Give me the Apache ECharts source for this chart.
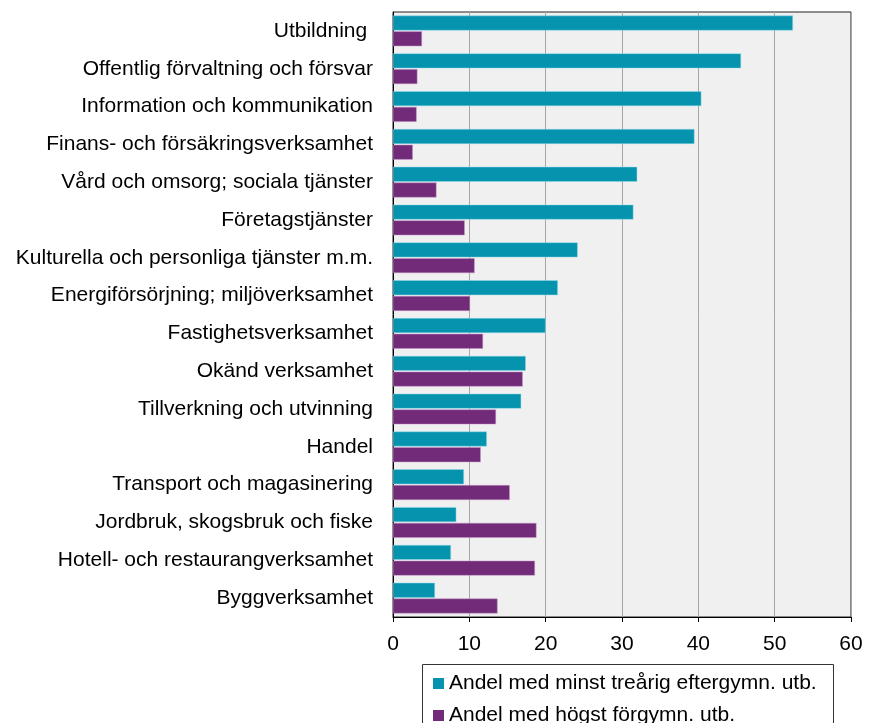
<!DOCTYPE html>
<html>
<head>
<meta charset="utf-8">
<script src="https://cdn.jsdelivr.net/npm/echarts@6/dist/echarts.min.js"></script>
<style>
html,body{margin:0;padding:0;background:#fff;}
#chart{width:871px;height:723px;}
</style>
</head>
<body>
<div id="chart"></div>
<script>
const categories = [
  "Utbildning ",
  "Offentlig förvaltning och försvar",
  "Information och kommunikation",
  "Finans- och försäkringsverksamhet",
  "Vård och omsorg; sociala tjänster",
  "Företagstjänster",
  "Kulturella och personliga tjänster m.m.",
  "Energiförsörjning; miljöverksamhet",
  "Fastighetsverksamhet",
  "Okänd verksamhet",
  "Tillverkning och utvinning",
  "Handel",
  "Transport och magasinering",
  "Jordbruk, skogsbruk och fiske",
  "Hotell- och restaurangverksamhet",
  "Byggverksamhet"
];
const seriesNames = ["Andel med minst treårig eftergymn. utb.", "Andel med högst förgymn. utb."];
const eftergymn = [52.4, 45.6, 40.4, 39.5, 32.0, 31.5, 24.2, 21.6, 20.0, 17.4, 16.8, 12.3, 9.3, 8.3, 7.6, 5.5];
const forgymn = [3.8, 3.2, 3.1, 2.6, 5.7, 9.4, 10.7, 10.1, 11.8, 17.0, 13.5, 11.5, 15.3, 18.8, 18.6, 13.7];
const xTicks = { min: 0, max: 60, interval: 10 };

const chart = echarts.init(document.getElementById('chart'), null, {renderer: 'canvas'});
const font = "'Liberation Sans', Arial, sans-serif";
chart.setOption({
  animation: false,
  backgroundColor: '#ffffff',
  textStyle: { fontFamily: font },
  grid: {
    left: 393, right: 20, top: 12, bottom: 106,
    show: true, backgroundColor: '#F0F0F0', borderColor: '#222', borderWidth: 1
  },
  graphic: [{
    type: 'rect', left: 422, top: 664, silent: true, z: 0,
    shape: { width: 411, height: 80 },
    style: { fill: '#fff', stroke: '#333', lineWidth: 1 }
  }],
  legend: {
    orient: 'vertical',
    left: 422, top: 664,
    width: 411, height: 80,
    padding: [9, 14, 10, 11],
    itemGap: 11,
    itemWidth: 11, itemHeight: 11,
    icon: 'rect',
    itemStyle: { borderWidth: 0 },
    z: 5,
    textStyle: { fontSize: 21, color: '#000', fontFamily: font },
    data: seriesNames
  },
  xAxis: {
    type: 'value',
    min: xTicks.min, max: xTicks.max, interval: xTicks.interval,
    axisLine: { show: true, lineStyle: { color: '#000', width: 1 } },
    axisTick: { show: true, length: 5, lineStyle: { color: '#000' } },
    axisLabel: { color: '#000', fontSize: 21, margin: 17, fontFamily: font },
    splitLine: { show: true, lineStyle: { color: '#A6A6A6', width: 1 } }
  },
  yAxis: {
    type: 'category',
    inverse: true,
    data: categories,
    axisLine: { show: true, lineStyle: { color: '#000', width: 1 } },
    axisTick: { show: false },
    axisLabel: { color: '#000', fontSize: 21, margin: 20, fontFamily: font }
  },
  series: [
    {
      name: seriesNames[0], type: 'bar', data: eftergymn,
      barWidth: 15, barGap: '5%',
      itemStyle: { color: '#0593AE', borderColor: 'rgba(150,220,235,0.8)', borderWidth: 0.6 }
    },
    {
      name: seriesNames[1], type: 'bar', data: forgymn,
      barWidth: 15, barGap: '5%',
      itemStyle: { color: '#712B78', borderColor: 'rgba(200,150,205,0.8)', borderWidth: 0.6 }
    }
  ]
});
</script>
</body>
</html>
